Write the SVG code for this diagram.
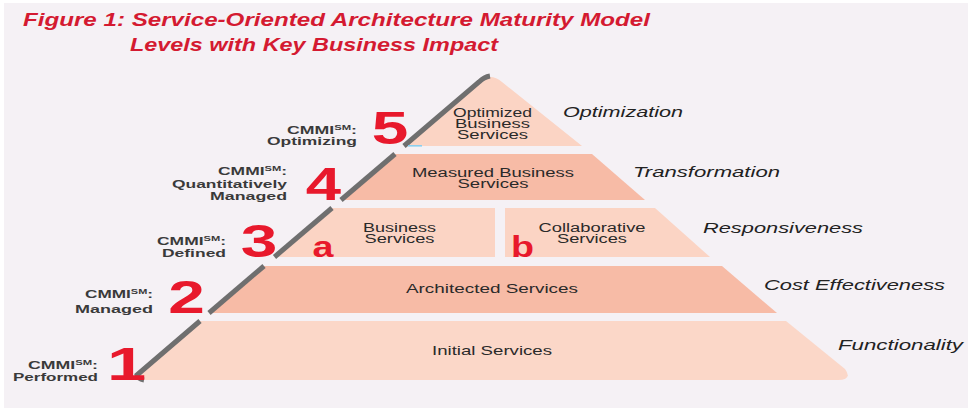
<svg xmlns="http://www.w3.org/2000/svg" width="968" height="409" viewBox="0 0 968 409">
<style>
.bg{fill:#F5F1F5}
.lite{fill:#FBD4C4}
.dark{fill:#F7BBA6}
.lite1{fill:#FBD7C8}
.stripe{fill:none;stroke:#6F6F6F;stroke-width:5;stroke-linecap:butt}
.title{font-family:"Liberation Sans",Arial,sans-serif;font-weight:bold;font-style:italic;font-size:18.5px;fill:#D41A31}
.lvl{font-family:"Liberation Sans",Arial,sans-serif;font-weight:bold;font-size:11px;fill:#3A3A3A;text-anchor:end}
.sup{font-size:7px}
.num{font-family:"Liberation Sans",Arial,sans-serif;font-weight:bold;font-size:47px;fill:#E8192C;text-anchor:middle}
.ab{font-family:"Liberation Sans",Arial,sans-serif;font-weight:bold;font-size:29px;fill:#E8192C;text-anchor:middle}
.band{font-family:"Liberation Sans",Arial,sans-serif;font-size:12px;fill:#2A2A2A;text-anchor:middle}
.band1{font-family:"Liberation Sans",Arial,sans-serif;font-size:13px;fill:#2A2A2A;text-anchor:middle}
.impact{font-family:"Liberation Sans",Arial,sans-serif;font-style:italic;font-size:14.5px;fill:#222222}
</style>
<rect x="0" y="0" width="968" height="409" fill="#FFFFFF"/>
<rect class="bg" x="4" y="3" width="964" height="405"/>

<g id="title">
<text class="title" x="23" y="26" textLength="627" lengthAdjust="spacingAndGlyphs">Figure 1:  Service-Oriented Architecture Maturity Model</text>
<text class="title" x="130" y="51" textLength="368" lengthAdjust="spacingAndGlyphs">Levels with Key Business Impact</text>
</g>

<g id="level5">
<path class="lite" d="M404,146 L479,82 Q490,72 502,82 L582,146 Z"/>
<path class="stripe" d="M404,146 L479,82 Q484,77 490,76"/>
<rect x="408" y="145" width="14" height="1.6" fill="#8CCFEF"/>
<text class="band" x="492.5" y="117" textLength="79" lengthAdjust="spacingAndGlyphs">Optimized</text>
<text class="band" x="492.5" y="128" textLength="75" lengthAdjust="spacingAndGlyphs">Business</text>
<text class="band" x="492.5" y="139" textLength="71" lengthAdjust="spacingAndGlyphs">Services</text>
<text class="lvl" x="357" y="134" textLength="70" lengthAdjust="spacingAndGlyphs">CMMI<tspan class="sup" dy="-4">SM</tspan><tspan dy="4">:</tspan></text>
<text class="lvl" x="357" y="145" textLength="90" lengthAdjust="spacingAndGlyphs">Optimizing</text>
<text class="num" transform="translate(390,144) scale(1.4,1)">5</text>
<text class="impact" x="563" y="117" textLength="120" lengthAdjust="spacingAndGlyphs">Optimization</text>
</g>

<g id="level4">
<path class="dark" d="M395,154 L592,154 L645,200 L341,200 Z"/>
<path class="stripe" d="M395,154 L341,200"/>
<text class="band" x="493" y="177" textLength="162" lengthAdjust="spacingAndGlyphs">Measured Business</text>
<text class="band" x="493" y="188" textLength="71" lengthAdjust="spacingAndGlyphs">Services</text>
<text class="lvl" x="287" y="175" textLength="69" lengthAdjust="spacingAndGlyphs">CMMI<tspan class="sup" dy="-4">SM</tspan><tspan dy="4">:</tspan></text>
<text class="lvl" x="287" y="188" textLength="115" lengthAdjust="spacingAndGlyphs">Quantitatively</text>
<text class="lvl" x="287" y="200" textLength="77" lengthAdjust="spacingAndGlyphs">Managed</text>
<text class="num" transform="translate(323.5,200) scale(1.35,1)">4</text>
<text class="impact" x="633" y="177" textLength="147" lengthAdjust="spacingAndGlyphs">Transformation</text>
</g>

<g id="level3">
<g id="level3a">
<path class="lite" d="M332,208 L495,208 L495,257 L274.5,257 Z"/>
<path class="stripe" d="M332,208 L274.5,257"/>
<text class="band" x="399.5" y="232" textLength="73" lengthAdjust="spacingAndGlyphs">Business</text>
<text class="band" x="399.5" y="243" textLength="70" lengthAdjust="spacingAndGlyphs">Services</text>
<text class="ab" transform="translate(323,257) scale(1.3,1)">a</text>
</g>
<g id="level3b">
<path class="lite" d="M505,208 L655,208 L710,257 L505,257 Z"/>
<text class="band" x="592" y="232" textLength="107" lengthAdjust="spacingAndGlyphs">Collaborative</text>
<text class="band" x="592" y="243" textLength="70" lengthAdjust="spacingAndGlyphs">Services</text>
<text class="ab" transform="translate(522.5,257) scale(1.3,1)">b</text>
</g>
<text class="lvl" x="226" y="245" textLength="69" lengthAdjust="spacingAndGlyphs">CMMI<tspan class="sup" dy="-4">SM</tspan><tspan dy="4">:</tspan></text>
<text class="lvl" x="226" y="257" textLength="64" lengthAdjust="spacingAndGlyphs">Defined</text>
<text class="num" transform="translate(259,257) scale(1.4,1)">3</text>
<text class="impact" x="703" y="233" textLength="160" lengthAdjust="spacingAndGlyphs">Responsiveness</text>
</g>

<g id="level2">
<path class="dark" d="M264,266 L722,266 L777,313 L209,313 Z"/>
<path class="stripe" d="M264,266 L209,313"/>
<text class="band1" x="492" y="293" textLength="172" lengthAdjust="spacingAndGlyphs">Architected Services</text>
<text class="lvl" x="153" y="298" textLength="68" lengthAdjust="spacingAndGlyphs">CMMI<tspan class="sup" dy="-4">SM</tspan><tspan dy="4">:</tspan></text>
<text class="lvl" x="153" y="313" textLength="78" lengthAdjust="spacingAndGlyphs">Managed</text>
<text class="num" transform="translate(186.5,313) scale(1.4,1)">2</text>
<text class="impact" x="764" y="290" textLength="181" lengthAdjust="spacingAndGlyphs">Cost Effectiveness</text>
</g>

<g id="level1">
<path class="lite1" d="M200,321 L786,321 L845,369 Q853,380 838,380 L146,380 Q137,380 136,377 Z"/>
<path class="stripe" d="M200,321 L137,375 Q138,379 144,380"/>
<text class="band1" x="492" y="355" textLength="120" lengthAdjust="spacingAndGlyphs">Initial Services</text>
<text class="lvl" x="98" y="369" textLength="70" lengthAdjust="spacingAndGlyphs">CMMI<tspan class="sup" dy="-4">SM</tspan><tspan dy="4">:</tspan></text>
<text class="lvl" x="98" y="381" textLength="85" lengthAdjust="spacingAndGlyphs">Performed</text>
<text class="num" transform="translate(126.5,380) scale(1.5,1)">1</text>
<text class="impact" x="838" y="350" textLength="125" lengthAdjust="spacingAndGlyphs">Functionality</text>
</g>

<g id="connectors"></g>
</svg>
